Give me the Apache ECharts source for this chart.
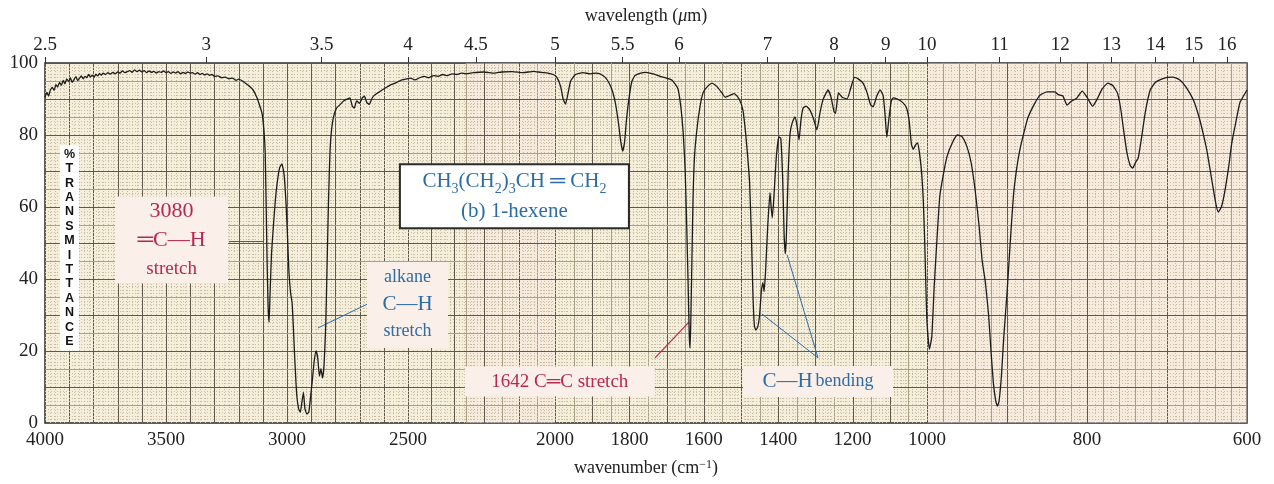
<!DOCTYPE html>
<html>
<head>
<meta charset="utf-8">
<script src="https://cdn.jsdelivr.net/npm/echarts@6/dist/echarts.min.js"></script>
<style>
  html, body { margin: 0; background: #fff; }
  #chart { width: 1274px; height: 484px; }
</style>
</head>
<body>
<div id="chart"></div>
<script>
/* IR spectrum of 1-hexene */

// [wavenumber cm-1, % transmittance]
const spectrum = [
  [4000,90.5],[3992,91.8],[3985,90.8],[3978,92.5],[3970,93.2],[3962,92.4],[3955,94],[3948,93.3],[3940,94.6],[3932,93.8],
  [3925,95.2],[3918,94.2],[3910,95.6],[3902,94.8],[3895,95.9],[3888,94.6],[3880,95.4],[3872,96.2],[3865,95.1],[3857,95.8],
  [3850,96.4],[3842,95.6],[3835,96.3],[3827,95.9],[3820,96.8],[3812,96.1],[3805,96.6],[3797,96],[3790,96.9],[3782,96.4],
  [3775,97.1],[3767,96.6],[3760,97.2],[3750,96.8],[3740,97.3],[3730,96.9],[3720,97.4],[3710,97],[3700,97.5],[3690,97.2],
  [3680,97.8],[3670,97.3],[3660,97.6],[3650,97.9],[3640,97.4],[3630,98.1],[3620,97.6],[3610,98],[3600,97.5],[3590,97.9],
  [3580,97.3],[3570,97.8],[3560,97.4],[3550,97.7],[3540,97.2],[3530,97.6],[3520,97.4],[3510,97.8],[3500,97.3],[3490,97.6],
  [3480,97.1],[3470,97.5],[3460,97.2],[3450,97.6],[3440,97],[3430,97.4],[3420,97.1],[3410,97.5],[3400,97.2],[3390,97.3],
  [3380,96.9],[3370,97.3],[3360,96.8],[3350,97.1],[3340,96.7],[3330,97],[3320,96.6],[3310,96.8],[3300,96.3],[3285,96.4],
  [3270,95.9],[3255,96.1],[3240,95.6],[3225,95.8],[3210,95.2],[3200,95.5],[3180,94.8],[3160,93.8],[3140,92.5],[3125,90.5],
  [3112,88],[3103,86],[3095,81],[3090,75],[3086,60],[3082,44],[3078,32],[3074,28],[3070,36],[3064,47],
  [3058,53],[3048,62],[3040,67],[3030,71],[3021,72],[3012,69],[3004,61],[2998,52],[2992,42],[2985,36],
  [2979,33.5],[2974,27],[2968,18],[2960,8],[2952,4],[2945,3],[2938,6],[2932,8.5],[2926,4],[2918,2.5],
  [2910,3],[2903,7],[2895,12],[2888,17],[2880,20],[2873,18],[2866,13],[2860,15],[2853,12.5],[2847,16],
  [2840,27],[2834,45],[2828,63],[2822,76],[2815,82],[2806,85.5],[2795,87.5],[2780,88.5],[2765,89.5],[2750,90],
  [2740,90.3],[2730,88],[2722,87.5],[2712,89.5],[2700,88.8],[2690,90.2],[2680,90.8],[2670,89],[2660,88.5],[2650,90],
  [2640,91],[2625,91.7],[2607,92.5],[2590,93.2],[2570,94],[2550,94.5],[2530,95.2],[2510,95.5],[2490,95.8],[2470,95.3],
  [2450,95.9],[2430,96.3],[2410,95.9],[2390,96.5],[2370,96.3],[2350,96.8],[2330,96.5],[2310,97],[2290,96.8],[2270,97.2],
  [2250,97],[2230,97.3],[2200,97.5],[2170,97.2],[2150,97.5],[2120,97.6],[2090,97.3],[2060,97.7],[2040,97.4],[2020,97.2],
  [2005,96.8],[1995,96],[1985,93.5],[1978,90],[1972,88.6],[1966,91],[1958,95],[1945,96.8],[1925,97.3],[1905,97],
  [1890,97.2],[1879,97],[1865,96],[1855,94.5],[1845,92],[1837,88.5],[1829,83],[1823,78],[1818,75.5],[1813,78],
  [1808,84],[1800,91],[1793,95],[1785,96.5],[1770,97.2],[1755,97.4],[1745,97.2],[1730,96.8],[1715,96.2],[1700,95.8],
  [1686,95.3],[1670,93],[1662,88],[1655,80],[1650,70],[1646,55],[1642,38],[1639,24],[1637,20.8],[1635,28],
  [1632,45],[1629,62],[1625,74],[1618,82],[1610,88],[1602,91.7],[1590,93.5],[1578,94.4],[1565,93.5],[1550,91.5],
  [1543,90.5],[1530,91],[1518,91.5],[1505,90],[1495,87],[1488,81],[1482,74],[1477,67],[1472,52],[1468,36],
  [1464,27],[1460,25.8],[1455,26.7],[1450,30],[1445,37],[1441,39],[1438,36.5],[1434,42],[1428,55],[1422,64],
  [1419,60],[1416,57],[1412,62],[1405,74],[1398,79.5],[1393,79],[1388,68],[1384,52],[1381,47],[1378,52],
  [1373,70],[1368,80.5],[1362,83.5],[1355,85],[1350,83],[1344,78.6],[1339,84],[1333,87.5],[1325,88],[1315,87],
  [1305,84.5],[1296,81.4],[1288,86],[1280,89.7],[1272,91.5],[1266,92.5],[1258,90.5],[1250,86.5],[1246,86],[1242,89],
  [1238,91.7],[1228,90.5],[1215,90],[1205,93],[1195,96],[1185,95.6],[1172,94.4],[1161,91.7],[1152,88.5],[1145,87.8],
  [1135,90.8],[1126,92.5],[1118,91],[1113,86],[1108,79.4],[1103,84],[1096,89.5],[1091,90.3],[1080,90],[1065,89],
  [1055,87.5],[1048,84],[1042,77.5],[1037,76],[1031,77.2],[1025,77.8],[1019,74],[1014,69],[1010,62],[1006,50],
  [1003,38],[1000,28],[997,20.5],[994,24],[991,38],[987,53],[984,63],[980,68.5],[975,74],[968,78],
  [962,80],[956,79.5],[950,76.7],[945,72.5],[940,65],[935,55],[931,45],[927,39],[923,30],[920,20],
  [917,11],[914,6],[912,4.7],[910,6],[907,13],[904,24],[900,36],[896,50],[892,63],[888,70.5],
  [884,75.8],[879,80.5],[874,84.7],[866,88.5],[859,91],[850,92],[840,92],[836,91.2],[830,90.8],[825,88.3],
  [820,89.3],[813,90.2],[806,92.2],[800,90.5],[793,88],[788,89.7],[781,92.8],[774,94.4],[768,93.8],[762,91.7],
  [758,87.5],[754,81],[750,75],[746,71.5],[743,70.8],[739,72.5],[736,73.6],[732,79],[727,86.5],[721,92.5],
  [715,94.5],[709,95.3],[700,96],[693,96.1],[684,95.3],[676,93.2],[667,89.7],[660,85],[655,80.6],[650,75.5],
  [644,67.5],[639,61],[636,58.6],[632,60],[628,64],[623,71],[619,77.8],[614,83.5],[609,88.9],[604,91],[600,92.5]
];

const wnTicks = [4000, 3500, 3000, 2500, 2000, 1800, 1600, 1400, 1200, 1000, 800, 600];
const umTicks = [2.5, 3, 3.5, 4, 4.5, 5, 5.5, 6, 7, 8, 9, 10, 11, 12, 13, 14, 15, 16];
const tTicks = [0, 20, 40, 60, 80, 100];

// chart paper is piecewise linear in wavenumber
const BREAK_WN = [4000, 2500, 2250, 2000, 1000, 600];
const BREAK_POS = [0, 363, 421, 510, 882, 1202];
const POS_MAX = 1202;

function pos(wn) {
  for (let i = 0; i < BREAK_WN.length - 1; i++) {
    const a = BREAK_WN[i], b = BREAK_WN[i + 1];
    if (wn <= a && wn >= b) {
      return BREAK_POS[i] + (a - wn) / (a - b) * (BREAK_POS[i + 1] - BREAK_POS[i]);
    }
  }
  return wn > 4000 ? 0 : POS_MAX;
}

const RED = '#b8294f';
const BLUE = '#2e6da4';
const SERIF = '"Liberation Serif", "Times New Roman", serif';
const BOX = '#fbefe9';

// grid lines of the paper: [position, kind]  kind 0 dotted, 1 light, 2 dark
const vLines = [];
for (let w = 3990; w > 600; w -= 10) {
  let kind = null;
  if (w % 100 === 0) kind = 2;
  else if (w > 2250) { if (w % 20 === 0) kind = 0; }
  else if (w > 1000) kind = (w % 50 === 0) ? 1 : 0;
  else kind = (w % 20 === 0) ? 1 : 0;
  if (kind !== null) vLines.push([pos(w), kind]);
}
const hLines = [];
for (let t = 1; t < 100; t++) {
  hLines.push([t, t % 10 === 0 ? 2 : (t % 5 === 0 ? 1 : 0)]);
}
const GRID_STYLE = [
  { stroke: '#c6bda3', lineWidth: 1, lineDash: [1, 2] },
  { stroke: '#aaa088', lineWidth: 1 },
  { stroke: '#5f584b', lineWidth: 1 }
];

function px(v) { return Math.round(v) + 0.5; }

function tickLabel(list, conv) {
  return v => {
    const hit = list.find(t => Math.abs(conv(t) - v) < 0.01);
    return hit === undefined ? '' : String(hit);
  };
}

// text box anchored at a (wavenumber, %T) point
function note(wn, t, label) {
  return {
    coord: [pos(wn), t], symbol: 'circle', symbolSize: 1,
    itemStyle: { color: 'rgba(0,0,0,0)' },
    label: Object.assign({ show: true, position: 'inside', align: 'center', fontFamily: SERIF }, label)
  };
}

const chart = echarts.init(document.getElementById('chart'));

chart.setOption({
  animation: false,
  backgroundColor: '#ffffff',
  grid: {
    left: 45, right: 27, top: 63, bottom: 61,
    show: true, backgroundColor: '#f4eedb', borderColor: '#2a2a2a', borderWidth: 1.5
  },
  xAxis: [{
    type: 'value', min: 0, max: POS_MAX, position: 'bottom',
    axisLine: { show: false }, axisTick: { show: false }, splitLine: { show: false },
    axisLabel: {
      customValues: wnTicks.map(pos),
      formatter: tickLabel(wnTicks, pos),
      margin: 8, fontFamily: SERIF, fontSize: 19, color: '#222'
    },
    name: 'wavenumber (cm{sup|−1})',
    nameLocation: 'middle', nameGap: 36,
    nameTextStyle: {
      fontFamily: SERIF, fontSize: 18, color: '#222',
      rich: { sup: { fontFamily: SERIF, fontSize: 12, color: '#222', verticalAlign: 'top', lineHeight: 12 } }
    }
  }, {
    type: 'value', min: 0, max: POS_MAX, position: 'top',
    axisLine: { show: false }, splitLine: { show: false },
    axisTick: {
      show: true, customValues: umTicks.map(u => pos(10000 / u)),
      length: 6, lineStyle: { color: '#333', width: 1 }
    },
    axisLabel: {
      customValues: umTicks.map(u => pos(10000 / u)),
      formatter: tickLabel(umTicks, u => pos(10000 / u)),
      margin: 8, fontFamily: SERIF, fontSize: 19, color: '#222'
    },
    name: 'wavelength ({i|μ}m)',
    nameLocation: 'middle', nameGap: 38,
    nameTextStyle: {
      fontFamily: SERIF, fontSize: 18, color: '#222',
      rich: { i: { fontFamily: SERIF, fontSize: 18, fontStyle: 'italic', color: '#222' } }
    }
  }],
  yAxis: {
    type: 'value', min: 0, max: 100, interval: 20,
    axisLine: { show: false }, axisTick: { show: false }, splitLine: { show: false },
    axisLabel: {
      customValues: tTicks,
      margin: 7, fontFamily: SERIF, fontSize: 19, color: '#222'
    }
  },
  series: [
    {
      // pinkish bands of the paper
      type: 'line', data: [], z: 0, silent: true,
      markArea: {
        silent: true,
        itemStyle: { color: 'rgba(250, 230, 224, 0.4)' },
        data: [
          [{ xAxis: pos(2250) }, { xAxis: pos(2000) }],
          [{ xAxis: pos(1000) }, { xAxis: pos(600) }]
        ]
      }
    },
    {
      type: 'custom', z: 1, silent: true, clip: true,
      data: vLines,
      renderItem: (params, api) => {
        const a = api.coord([api.value(0), 0]);
        const b = api.coord([api.value(0), 100]);
        return { type: 'line', shape: { x1: px(a[0]), y1: a[1], x2: px(b[0]), y2: b[1] }, style: GRID_STYLE[api.value(1)] };
      }
    },
    {
      type: 'custom', z: 1, silent: true, clip: true,
      data: hLines,
      renderItem: (params, api) => {
        const a = api.coord([0, api.value(0)]);
        const b = api.coord([POS_MAX, api.value(0)]);
        return { type: 'line', shape: { x1: a[0], y1: px(a[1]), x2: b[0], y2: px(b[1]) }, style: GRID_STYLE[api.value(1)] };
      }
    },
    {
      name: '1-hexene',
      type: 'line', z: 5,
      data: spectrum.map(p => [pos(p[0]), p[1]]),
      showSymbol: false, smooth: 0.15,
      lineStyle: { color: '#1c1c1c', width: 1.3 }
    },
    {
      // labels and leader lines
      type: 'scatter', data: [], z: 6, silent: true,
      markLine: {
        silent: true, symbol: ['none', 'none'], label: { show: false },
        data: [
          [{ coord: [pos(3240), 50.4], lineStyle: { color: RED, width: 1.2, type: 'solid' } }, { coord: [pos(3095), 50.4] }],
          [{ coord: [pos(2872), 26.4], lineStyle: { color: BLUE, width: 1, type: 'solid' } }, { coord: [pos(2669), 33] }],
          [{ coord: [pos(1731), 18.1], lineStyle: { color: RED, width: 1.2, type: 'solid' } }, { coord: [pos(1640), 28] }],
          [{ coord: [pos(1293), 18.1], lineStyle: { color: BLUE, width: 1, type: 'solid' } }, { coord: [pos(1444), 30.3] }],
          [{ coord: [pos(1293), 18.1], lineStyle: { color: BLUE, width: 1, type: 'solid' } }, { coord: [pos(1376), 46.7] }]
        ]
      },
      markPoint: {
        silent: true,
        data: [
          note(3899, 48.6, {
            color: '#111', backgroundColor: '#ffffff', width: 19, padding: [2, 0, 2, 0],
            fontFamily: '"Liberation Sans", Arial, sans-serif', fontWeight: 'bold', fontSize: 12.5, lineHeight: 14.4,
            formatter: '%\nT\nR\nA\nN\nS\nM\nI\nT\nT\nA\nN\nC\nE'
          }),
          note(3477, 50.8, {
            backgroundColor: BOX, width: 113, padding: [0, 0, 0, 0],
            formatter: '{n|3080}\n{n|═C—H}\n{s|stretch}',
            rich: {
              n: { fontFamily: SERIF, fontSize: 22, lineHeight: 29, color: RED, align: 'center' },
              s: { fontFamily: SERIF, fontSize: 19, lineHeight: 29, color: RED, align: 'center' }
            }
          }),
          note(2502, 32.8, {
            backgroundColor: BOX, width: 81, padding: [2, 0, 3, 0],
            formatter: '{t|alkane}\n{c|C—H}\n{t|stretch}',
            rich: {
              t: { fontFamily: SERIF, fontSize: 18, lineHeight: 27, color: BLUE, align: 'center' },
              c: { fontFamily: SERIF, fontSize: 21, lineHeight: 27, color: BLUE, align: 'center' }
            }
          }),
          note(2114, 63, {
            backgroundColor: '#ffffff', borderColor: '#2b2b2b', borderWidth: 2,
            width: 227, padding: [1, 0, 1, 0],
            formatter: '{m|CH}{s|3}{m|(CH}{s|2}{m|)}{s|3}{m|CH ═ CH}{s|2}\n{m|(b) 1-hexene}',
            rich: {
              m: { fontFamily: SERIF, fontSize: 21, lineHeight: 30, color: BLUE },
              s: { fontFamily: SERIF, fontSize: 14, lineHeight: 16, verticalAlign: 'bottom', color: BLUE }
            }
          }),
          note(1987, 11.5, {
            backgroundColor: BOX, width: 190, lineHeight: 30, padding: 0,
            color: RED, fontSize: 19,
            formatter: '1642 C═C stretch'
          }),
          note(1293, 11.5, {
            backgroundColor: BOX, width: 150, padding: 0,
            formatter: '{a|C—H} {b|bending}',
            rich: {
              a: { fontFamily: SERIF, fontSize: 21, lineHeight: 31, color: BLUE },
              b: { fontFamily: SERIF, fontSize: 18, lineHeight: 31, color: BLUE }
            }
          })
        ]
      }
    }
  ]
});
</script>
</body>
</html>
